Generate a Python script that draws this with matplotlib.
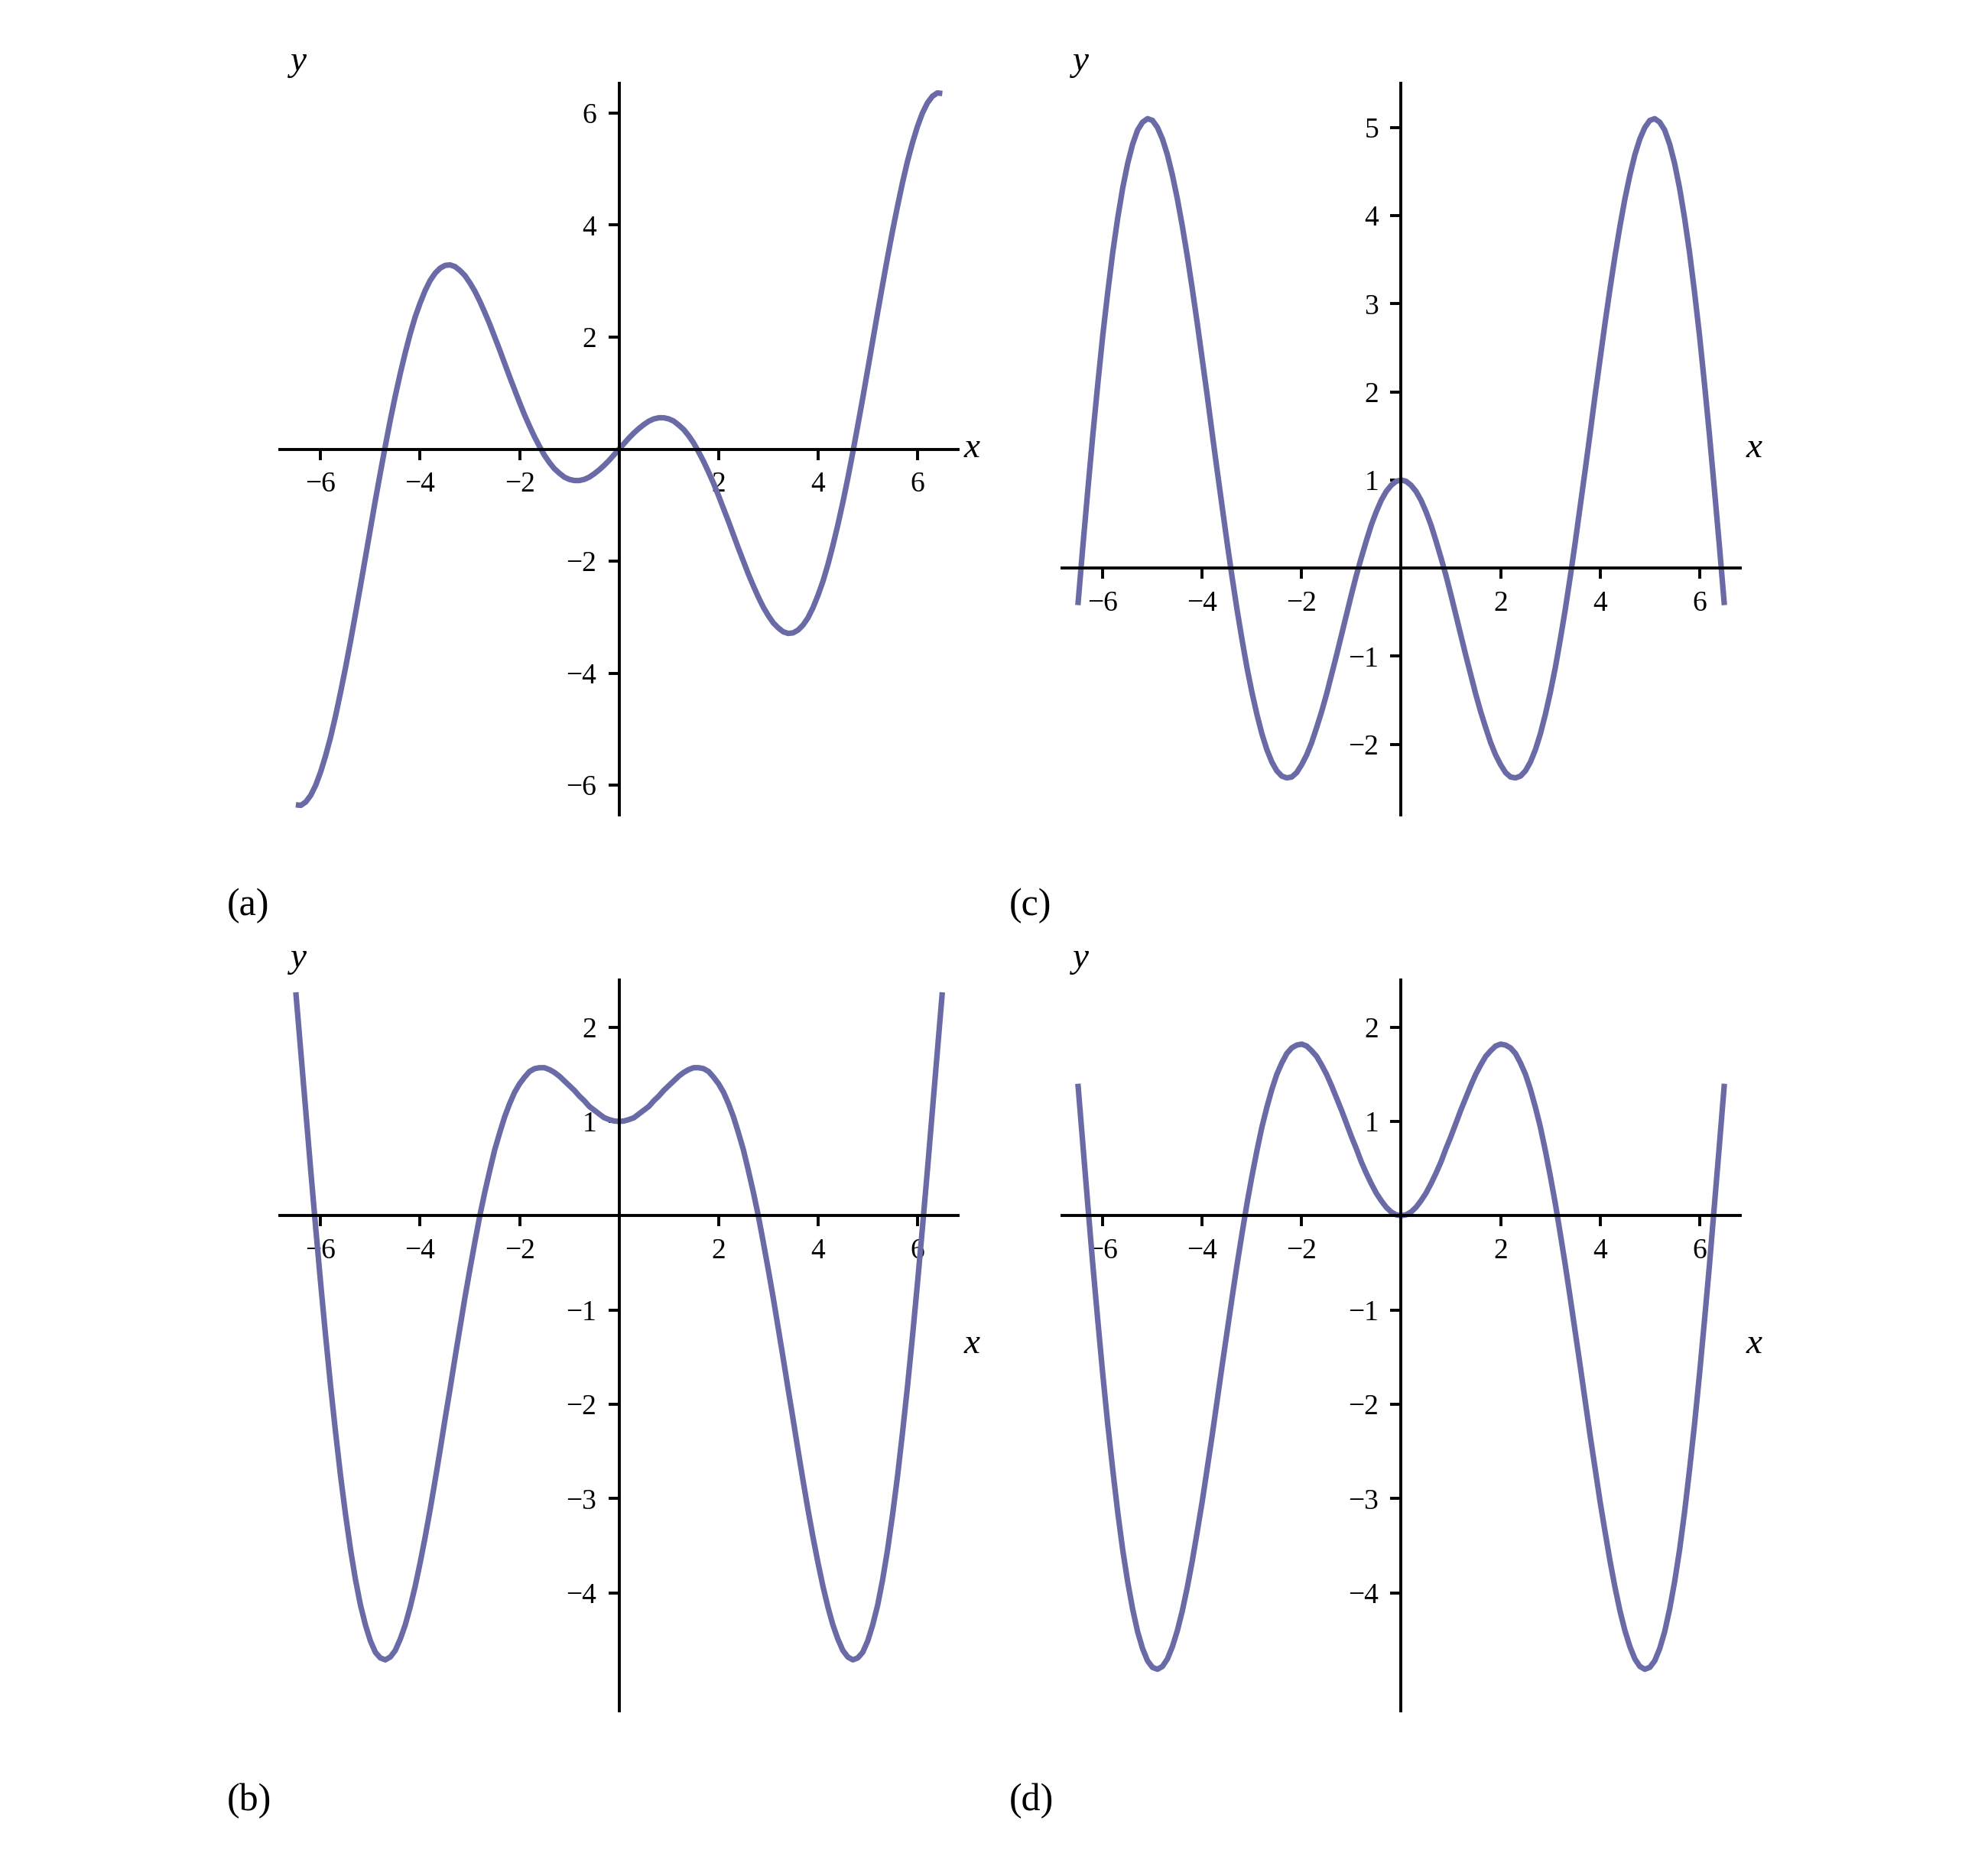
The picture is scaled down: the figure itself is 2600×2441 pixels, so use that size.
import numpy as np
import matplotlib.pyplot as plt

plt.rcParams['font.family'] = ['Liberation Serif', 'DejaVu Serif']
plt.rcParams['axes.unicode_minus'] = True

# sample positions along x, every 0.1 from -6.5 to 6.5
X_SAMPLES = np.linspace(-6.5, 6.5, 131)

# curve values
Y_A = [
    -6.35, -6.36, -6.30, -6.18, -6.00, -5.76, -5.47, -5.14, -4.76, -4.34,
    -3.90, -3.43, -2.94, -2.44, -1.93, -1.42, -0.91, -0.42, 0.06, 0.52,
    0.95, 1.35, 1.72, 2.06, 2.36, 2.61, 2.83, 3.01, 3.14, 3.23,
    3.28, 3.29, 3.26, 3.19, 3.10, 2.97, 2.82, 2.64, 2.44, 2.23,
    2.00, 1.77, 1.53, 1.29, 1.06, 0.83, 0.61, 0.41, 0.22, 0.05,
    -0.11, -0.24, -0.35, -0.43, -0.50, -0.54, -0.56, -0.56, -0.54, -0.50,
    -0.44, -0.37, -0.29, -0.20, -0.10,
    0.00, 0.10, 0.20, 0.29, 0.37, 0.44, 0.50, 0.54, 0.56, 0.56,
    0.54, 0.50, 0.43, 0.35, 0.24, 0.11, -0.05, -0.22, -0.41, -0.61,
    -0.83, -1.06, -1.29, -1.53, -1.77, -2.00, -2.23, -2.44, -2.64, -2.82,
    -2.97, -3.10, -3.19, -3.26, -3.29, -3.28, -3.23, -3.14, -3.01, -2.83,
    -2.61, -2.36, -2.06, -1.72, -1.35, -0.95, -0.52, -0.06, 0.42, 0.91,
    1.42, 1.93, 2.44, 2.94, 3.43, 3.90, 4.34, 4.76, 5.14, 5.47,
    5.76, 6.00, 6.18, 6.30, 6.36, 6.35,
]

Y_B = [
    2.37, 1.74, 1.11, 0.48, -0.13, -0.72, -1.28, -1.81, -2.30, -2.76,
    -3.17, -3.54, -3.86, -4.13, -4.34, -4.51, -4.63, -4.69, -4.71, -4.68,
    -4.61, -4.49, -4.34, -4.15, -3.93, -3.68, -3.41, -3.12, -2.81, -2.49,
    -2.16, -1.84, -1.51, -1.19, -0.87, -0.57, -0.28, 0.00, 0.25, 0.48,
    0.70, 0.88, 1.05, 1.19, 1.31, 1.40, 1.47, 1.53, 1.56, 1.57,
    1.57, 1.55, 1.52, 1.48, 1.43, 1.38, 1.33, 1.27, 1.22, 1.16,
    1.12, 1.08, 1.04, 1.02, 1.005,
    1.00, 1.005, 1.02, 1.04, 1.08, 1.12, 1.16, 1.22, 1.27, 1.33,
    1.38, 1.43, 1.48, 1.52, 1.55, 1.57, 1.57, 1.56, 1.53, 1.47,
    1.40, 1.31, 1.19, 1.05, 0.88, 0.70, 0.48, 0.25, 0.00, -0.28,
    -0.57, -0.87, -1.19, -1.51, -1.84, -2.16, -2.49, -2.81, -3.12, -3.41,
    -3.68, -3.93, -4.15, -4.34, -4.49, -4.61, -4.68, -4.71, -4.69, -4.63,
    -4.51, -4.34, -4.13, -3.86, -3.54, -3.17, -2.76, -2.30, -1.81, -1.28,
    -0.72, -0.13, 0.48, 1.11, 1.74, 2.37,
]

Y_C = [
    -0.42, 0.25, 0.89, 1.51, 2.09, 2.64, 3.13, 3.58, 3.97, 4.31,
    4.59, 4.81, 4.97, 5.06, 5.10, 5.08, 5.00, 4.87, 4.69, 4.46,
    4.19, 3.88, 3.54, 3.17, 2.78, 2.37, 1.96, 1.53, 1.11, 0.70,
    0.29, -0.10, -0.47, -0.81, -1.13, -1.41, -1.66, -1.88, -2.06, -2.20,
    -2.30, -2.36, -2.38, -2.37, -2.32, -2.23, -2.12, -1.98, -1.81, -1.63,
    -1.43, -1.21, -0.99, -0.76, -0.53, -0.30, -0.08, 0.12, 0.31, 0.49,
    0.64, 0.77, 0.87, 0.94, 0.985,
    1.00, 0.985, 0.94, 0.87, 0.77, 0.64, 0.49, 0.31, 0.12, -0.08,
    -0.30, -0.53, -0.76, -0.99, -1.21, -1.43, -1.63, -1.81, -1.98, -2.12,
    -2.23, -2.32, -2.37, -2.38, -2.36, -2.30, -2.20, -2.06, -1.88, -1.66,
    -1.41, -1.13, -0.81, -0.47, -0.10, 0.29, 0.70, 1.11, 1.53, 1.96,
    2.37, 2.78, 3.17, 3.54, 3.88, 4.19, 4.46, 4.69, 4.87, 5.00,
    5.08, 5.10, 5.06, 4.97, 4.81, 4.59, 4.31, 3.97, 3.58, 3.13,
    2.64, 2.09, 1.51, 0.89, 0.25, -0.42,
]

Y_D = [
    1.40, 0.75, 0.11, -0.52, -1.11, -1.68, -2.21, -2.69, -3.14, -3.54,
    -3.88, -4.17, -4.41, -4.59, -4.72, -4.79, -4.81, -4.78, -4.70, -4.57,
    -4.40, -4.19, -3.94, -3.66, -3.35, -3.03, -2.68, -2.33, -1.96, -1.59,
    -1.23, -0.87, -0.52, -0.19, 0.13, 0.42, 0.69, 0.94, 1.15, 1.34,
    1.50, 1.62, 1.72, 1.78, 1.81, 1.82, 1.80, 1.75, 1.69, 1.60,
    1.50, 1.38, 1.25, 1.12, 0.98, 0.84, 0.71, 0.57, 0.45, 0.34,
    0.24, 0.16, 0.09, 0.04, 0.01,
    0.00, 0.01, 0.04, 0.09, 0.16, 0.24, 0.34, 0.45, 0.57, 0.71,
    0.84, 0.98, 1.12, 1.25, 1.38, 1.50, 1.60, 1.69, 1.75, 1.80,
    1.82, 1.81, 1.78, 1.72, 1.62, 1.50, 1.34, 1.15, 0.94, 0.69,
    0.42, 0.13, -0.19, -0.52, -0.87, -1.23, -1.59, -1.96, -2.33, -2.68,
    -3.03, -3.35, -3.66, -3.94, -4.19, -4.40, -4.57, -4.70, -4.78, -4.81,
    -4.79, -4.72, -4.59, -4.41, -4.17, -3.88, -3.54, -3.14, -2.69, -2.21,
    -1.68, -1.11, -0.52, 0.11, 0.75, 1.40,
]

XTICKS = [-6, -4, -2, 2, 4, 6]
YTICKS_A = [-6, -4, -2, 2, 4, 6]
YTICKS_B = [-4, -3, -2, -1, 1, 2]
YTICKS_C = [-2, -1, 1, 2, 3, 4, 5]
YTICKS_D = [-4, -3, -2, -1, 1, 2]

CURVE_COLOR = '#6a6aa6'
XLIM = (-6.82, 6.82)

fig = plt.figure(figsize=(13, 12.205), dpi=200)


def draw_panel(rect, y, ylim, yticks, label, label_xy):
    ax = fig.add_axes(rect)
    ax.plot(X_SAMPLES, y, color=CURVE_COLOR, lw=2.6, solid_capstyle='butt',
            solid_joinstyle='round')
    ax.set_xlim(*XLIM)
    ax.set_ylim(*ylim)
    for side in ('top', 'right'):
        ax.spines[side].set_visible(False)
    for side in ('left', 'bottom'):
        ax.spines[side].set_position(('data', 0))
        ax.spines[side].set_linewidth(1.4)
    ax.set_xticks(XTICKS)
    ax.set_yticks(yticks)
    ax.tick_params(direction='out', length=5, width=1.4, labelsize=13.5, pad=5.5)
    ax.text(1.008, 0.489, 'x', transform=ax.transAxes, style='italic',
            fontsize=17, ha='left', va='baseline')
    ax.text(0.016, 1.018, 'y', transform=ax.transAxes, style='italic',
            fontsize=17, ha='left', va='baseline')
    fig.text(label_xy[0], label_xy[1], label, fontsize=18, ha='left', va='baseline')
    return ax


draw_panel([0.1408, 0.5633, 0.3412, 0.3920], Y_A, (-6.53, 6.53), YTICKS_A, '(a)', (0.1142, 0.5096))
draw_panel([0.5342, 0.5633, 0.3412, 0.3920], Y_C, (-2.8, 5.5), YTICKS_C, '(c)', (0.5077, 0.5096))
draw_panel([0.1408, 0.0832, 0.3412, 0.3916], Y_B, (-5.25, 2.5), YTICKS_B, '(b)', (0.1142, 0.0299))
draw_panel([0.5342, 0.0832, 0.3412, 0.3916], Y_D, (-5.25, 2.5), YTICKS_D, '(d)', (0.5077, 0.0299))

fig.savefig('out.png', dpi=200)
